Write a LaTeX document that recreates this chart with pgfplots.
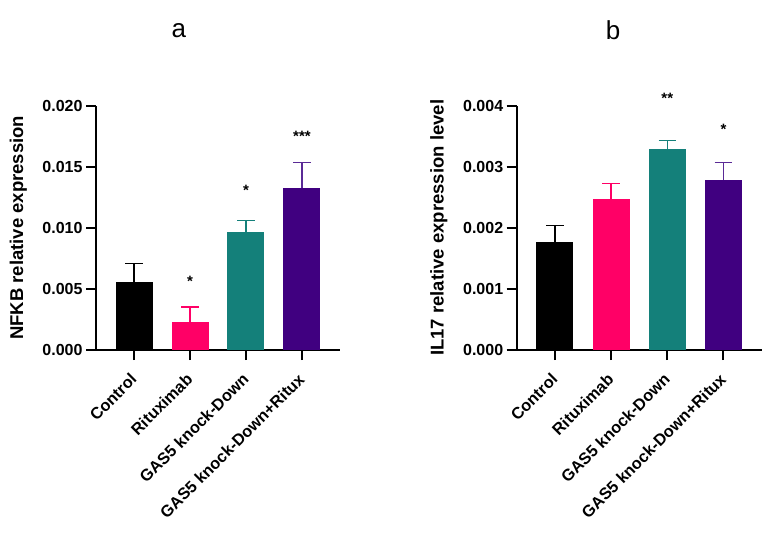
\documentclass[border=0pt]{standalone}
\usepackage{pgfplots}
\pgfplotsset{compat=1.18}
\usepackage{fontspec}
\setmainfont{Liberation Sans}

\definecolor{ctrl}{HTML}{000000}
\definecolor{ritux}{HTML}{FF0066}
\definecolor{gas}{HTML}{14807A}
\definecolor{combo}{HTML}{400080}
\definecolor{comboerr}{HTML}{5A2A96}

\tikzset{star/.style={font=\bfseries\fontsize{15}{15}\selectfont}}

\pgfplotsset{
  panel/.style={
    scale only axis, width=244pt, height=244.3pt,
    xmin=-0.68, xmax=3.68, ymin=0,
    axis x line=bottom, axis y line=left,
    axis line style={-, line width=2.2pt, black},
    tick align=outside, major tick length=10pt,
    tick style={line width=2pt, black},
    xtick={0,1,2,3},
    xticklabels={Control, Rituximab, GAS5 knock-Down, GAS5 knock-Down+Ritux},
    xticklabel style={rotate=45, anchor=east, xshift=-8.5pt, yshift=-11.3pt,
      font=\bfseries\fontsize{16.3}{19}\selectfont},
    scaled y ticks=false,
    yticklabel style={font=\bfseries\fontsize{16}{19}\selectfont,
      /pgf/number format/.cd, fixed, fixed zerofill, precision=3, assume math mode=true},
    ylabel style={at={(axis description cs:-0.318,0.5)}, anchor=center,
      font=\bfseries\fontsize{18.5}{22}\selectfont},
    title style={anchor=center, yshift=-8.5pt, font=\fontsize{26}{30}\selectfont},
    clip=false,
  },
  grpbar/.style 2 args={ybar, bar width=37pt, bar shift=0pt, fill=#1, draw=none,
    error bars/.cd, y dir=plus, y explicit,
    error bar style={line width=1.5pt, #2},
    error mark options={rotate=90, line width=1.5pt, mark size=8.8pt, #2}},
}

\begin{document}
\begin{tikzpicture}
\useasboundingbox (0,0) rectangle (765pt,541pt);

% Panel a: NFKB
\begin{axis}[panel, at={(96pt,191pt)}, anchor=south west,
  ymax=0.020, ytick={0,0.005,0.010,0.015,0.020},
  ylabel={NFKB relative expression},
  title={a}, title style={at={(axis description cs:0.34,1.318)}}]
\addplot[grpbar={ctrl}{ctrl}]     coordinates {(0,0.00559) +- (0,0.00151)};
\addplot[grpbar={ritux}{ritux}]   coordinates {(1,0.00232) +- (0,0.00118)};
\addplot[grpbar={gas}{gas}]       coordinates {(2,0.00969) +- (0,0.00090)};
\addplot[grpbar={combo}{comboerr}] coordinates {(3,0.01324) +- (0,0.00213)};
\node[star] at (axis cs:1,0.00565) {*};
\node[star] at (axis cs:2,0.0131) {*};
\node[star] at (axis cs:3,0.01752) {***};
\end{axis}

% Panel b: IL17
\begin{axis}[panel, at={(516.7pt,191pt)}, anchor=south west, width=245pt,
  ymax=0.004, ytick={0,0.001,0.002,0.003,0.004},
  ylabel={IL17 relative expression level},
  title={b}, title style={at={(axis description cs:0.393,1.318)}}]
\addplot[grpbar={ctrl}{ctrl}]     coordinates {(0,0.001763) +- (0,0.000277)};
\addplot[grpbar={ritux}{ritux}]   coordinates {(1,0.00247) +- (0,0.00026)};
\addplot[grpbar={gas}{gas}]       coordinates {(2,0.003285) +- (0,0.000142)};
\addplot[grpbar={combo}{comboerr}] coordinates {(3,0.002783) +- (0,0.000284)};
\node[star] at (axis cs:2,0.004115) {**};
\node[star] at (axis cs:3,0.003607) {*};
\end{axis}
\end{tikzpicture}
\end{document}
